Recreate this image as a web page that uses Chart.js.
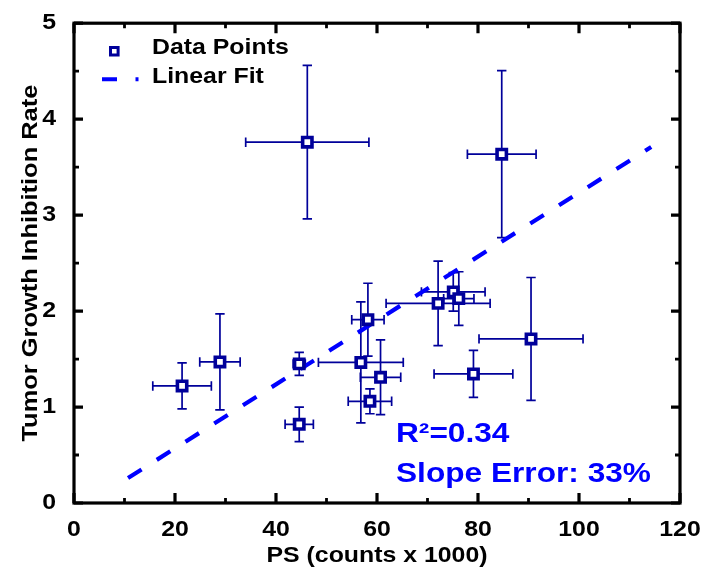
<!DOCTYPE html>
<html>
<head>
<meta charset="utf-8">
<script src="https://cdn.jsdelivr.net/npm/chart.js@4.4.1/dist/chart.umd.min.js"></script>
<style>
html,body{margin:0;padding:0;background:#fff;}
#wrap{width:712px;height:574px;}
</style>
</head>
<body>
<div id="wrap"><canvas id="c" width="712" height="574"></canvas></div>
<script>
// ---- data ----
const xValues = [21.4, 28.9, 44.6, 44.6, 46.2, 56.8, 58.2, 58.6, 60.7, 72.1, 75.1, 76.2, 84.7, 90.5, 79.1];
const yValues = [1.22, 1.47, 1.45, 0.82, 3.76, 1.465, 1.91, 1.06, 1.31, 2.08, 2.20, 2.13, 3.635, 1.71, 1.345];
const xErrors = [5.8, 4.0, 1.2, 2.8, 12.2, 8.4, 3.2, 4.3, 4.0, 10.3, 6.3, 3.0, 6.8, 10.3, 7.8];
const yErrors = [0.24, 0.50, 0.12, 0.18, 0.80, 0.63, 0.38, 0.13, 0.39, 0.44, 0.20, 0.28, 0.87, 0.64, 0.245];
const fitX = [10.7, 114.3];
const fitY = [0.26, 3.71];
const xMajorTicks = [0, 20, 40, 60, 80, 100, 120];
const xMinorTicks = [10, 30, 50, 70, 90, 110];
const yMajorTicks = [0, 1, 2, 3, 4, 5];
const yMinorTicks = [0.5, 1.5, 2.5, 3.5, 4.5];
const legendLabels = ['Data Points', 'Linear Fit'];
const xTitle = 'PS (counts x 1000)';
const yTitle = 'Tumor Growth Inhibition Rate';
const noteLines = ['R\u00B2=0.34', 'Slope Error: 33%'];

const FONT = "'Liberation Sans', Arial, Helvetica, sans-serif";
const NAVY = '#00009A';
const BLUE = '#0000FF';
const SX = 1.13; // the reference's lettering is a little wider than Arial

const canvas = document.getElementById('c');
const ctx2d = canvas.getContext('2d');
// draw every text wider along its own direction (keeps it real text)
ctx2d.fillText = function (t, x, y, mw) {
  this.save();
  this.translate(x, y);
  this.scale(SX, 1);
  if (mw === undefined) CanvasRenderingContext2D.prototype.fillText.call(this, t, 0, 0);
  else CanvasRenderingContext2D.prototype.fillText.call(this, t, 0, 0, mw / SX);
  this.restore();
};
ctx2d.measureText = function (t) {
  const m = CanvasRenderingContext2D.prototype.measureText.call(this, t);
  return {
    width: m.width * SX,
    actualBoundingBoxLeft: m.actualBoundingBoxLeft * SX,
    actualBoundingBoxRight: m.actualBoundingBoxRight * SX,
    actualBoundingBoxAscent: m.actualBoundingBoxAscent,
    actualBoundingBoxDescent: m.actualBoundingBoxDescent,
    fontBoundingBoxAscent: m.fontBoundingBoxAscent,
    fontBoundingBoxDescent: m.fontBoundingBoxDescent
  };
};

const points = xValues.map((x, i) => ({x: x, y: yValues[i]}));
const fitPoints = fitX.map((x, i) => ({x: x, y: fitY[i]}));

const errorBarPlugin = {
  id: 'errorBars',
  beforeDatasetsDraw(chart) {
    const ctx = chart.ctx, xs = chart.scales.x, ys = chart.scales.y;
    const cap = 4.7;
    ctx.save();
    ctx.strokeStyle = NAVY;
    ctx.lineWidth = 1.7;
    for (let i = 0; i < xValues.length; i++) {
      const px = xs.getPixelForValue(xValues[i]);
      const py = ys.getPixelForValue(yValues[i]);
      const x1 = xs.getPixelForValue(xValues[i] - xErrors[i]);
      const x2 = xs.getPixelForValue(xValues[i] + xErrors[i]);
      const y1 = ys.getPixelForValue(yValues[i] - yErrors[i]);
      const y2 = ys.getPixelForValue(yValues[i] + yErrors[i]);
      ctx.beginPath();
      ctx.moveTo(x1, py); ctx.lineTo(x2, py);
      ctx.moveTo(x1, py - cap); ctx.lineTo(x1, py + cap);
      ctx.moveTo(x2, py - cap); ctx.lineTo(x2, py + cap);
      ctx.moveTo(px, y1); ctx.lineTo(px, y2);
      ctx.moveTo(px - cap, y1); ctx.lineTo(px + cap, y1);
      ctx.moveTo(px - cap, y2); ctx.lineTo(px + cap, y2);
      ctx.stroke();
    }
    ctx.restore();
  }
};

const framePlugin = {
  id: 'frame',
  afterDraw(chart) {
    const ctx = chart.ctx, a = chart.chartArea, xs = chart.scales.x, ys = chart.scales.y;
    ctx.save();
    ctx.strokeStyle = '#000';
    ctx.lineWidth = 3.2;
    ctx.lineCap = 'square';
    ctx.strokeRect(a.left, a.top, a.right - a.left, a.bottom - a.top);
    ctx.lineCap = 'butt';
    const tick = (vals, len, w) => {
      ctx.lineWidth = w;
      ctx.beginPath();
      vals.forEach(v => {
        const p = xs.getPixelForValue(v);
        ctx.moveTo(p, a.bottom); ctx.lineTo(p, a.bottom - len);
        ctx.moveTo(p, a.top); ctx.lineTo(p, a.top + len);
      });
      ctx.stroke();
    };
    const ytick = (vals, len, w) => {
      ctx.lineWidth = w;
      ctx.beginPath();
      vals.forEach(v => {
        const p = ys.getPixelForValue(v);
        ctx.moveTo(a.left, p); ctx.lineTo(a.left + len, p);
        ctx.moveTo(a.right, p); ctx.lineTo(a.right - len, p);
      });
      ctx.stroke();
    };
    tick(xMajorTicks, 10, 3.2);
    tick(xMinorTicks, 5, 2.8);
    ytick(yMajorTicks, 9, 3.2);
    ytick(yMinorTicks, 5, 2.8);

    // legend
    ctx.strokeStyle = NAVY;
    ctx.fillStyle = '#fff';
    ctx.lineWidth = 3;
    ctx.beginPath();
    ctx.rect(110.5, 47.5, 7.6, 7.6);
    ctx.fill(); ctx.stroke();
    ctx.strokeStyle = BLUE;
    ctx.lineWidth = 4;
    ctx.beginPath();
    ctx.moveTo(102, 79.3); ctx.lineTo(117, 79.3);
    ctx.moveTo(135.5, 79.3); ctx.lineTo(138.5, 79.3);
    ctx.stroke();
    ctx.fillStyle = '#000';
    ctx.font = 'bold 22px ' + FONT;
    ctx.textAlign = 'left';
    ctx.textBaseline = 'alphabetic';
    ctx.fillText(legendLabels[0], 152, 53.5);
    ctx.fillText(legendLabels[1], 152, 83);

    // annotation
    ctx.fillStyle = BLUE;
    ctx.font = 'bold 28px ' + FONT;
    ctx.fillText(noteLines[0], 396, 442);
    ctx.fillText(noteLines[1], 396, 481.5);
    ctx.restore();
  }
};

new Chart(canvas, {
  type: 'scatter',
  data: {
    datasets: [
      {
        label: legendLabels[0],
        data: points,
        pointStyle: 'rect',
        pointRadius: 6.6,
        pointHoverRadius: 6.6,
        pointBorderWidth: 3.6,
        pointBorderColor: NAVY,
        pointBackgroundColor: '#fff',
        showLine: false,
        order: 0
      },
      {
        type: 'line',
        label: legendLabels[1],
        data: fitPoints,
        borderColor: BLUE,
        borderWidth: 4.2,
        borderDash: [16, 18],
        borderCapStyle: 'butt',
        pointRadius: 0,
        fill: false,
        order: 1
      }
    ]
  },
  options: {
    responsive: false,
    animation: false,
    events: [],
    layout: { padding: { left: 0, top: 15, right: 32, bottom: 0 } },
    plugins: { legend: { display: false }, tooltip: { enabled: false } },
    scales: {
      x: {
        type: 'linear', min: 0, max: 120,
        afterFit(s) { s.height = 71; },
        afterBuildTicks(s) { s.ticks = xMajorTicks.map(v => ({value: v})); },
        ticks: { color: '#000', padding: 6, font: { family: FONT, size: 22, weight: 'bold' } },
        grid: { display: false },
        border: { display: false },
        title: { display: true, text: xTitle, color: '#000', padding: { top: 0, bottom: 5 },
                 font: { family: FONT, size: 22, weight: 'bold' } }
      },
      y: {
        type: 'linear', min: 0, max: 5,
        afterFit(s) { s.width = 74; },
        afterBuildTicks(s) { s.ticks = yMajorTicks.map(v => ({value: v})); },
        ticks: { color: '#000', padding: 10, font: { family: FONT, size: 22, weight: 'bold' } },
        grid: { display: false },
        border: { display: false },
        title: { display: true, text: yTitle, color: '#000', padding: { top: 17, bottom: 0 },
                 font: { family: FONT, size: 22.5, weight: 'bold' } }
      }
    }
  },
  plugins: [errorBarPlugin, framePlugin]
});
</script>
</body>
</html>
